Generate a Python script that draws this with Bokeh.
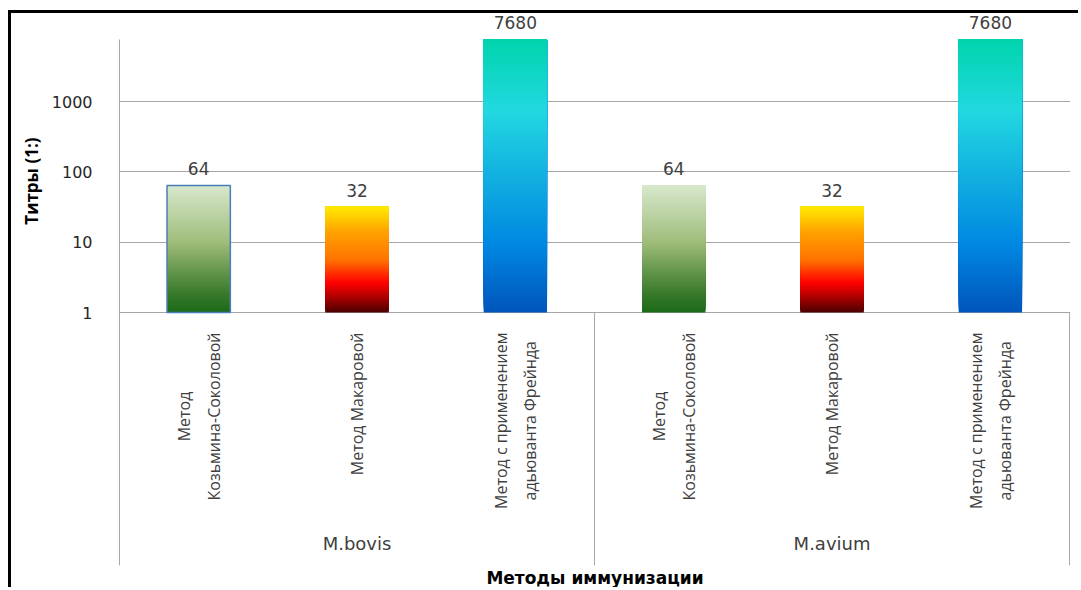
import numpy as np
from bokeh.plotting import figure
from bokeh.models import FixedTicker, Range1d, ColumnDataSource, Title
from bokeh.core.properties import value
from bokeh.embed import file_html
from bokeh.resources import INLINE

# ---------------- data ----------------
groups = ["M.bovis", "M.avium"]
methods = ["Метод\nКозьмина-Соколовой", "Метод Макаровой", "Метод с применением\nадьюванта Фрейнда"]
bovis_titers = [64, 32, 7680]
avium_titers = [64, 32, 7680]
y_ticks = [1, 10, 100, 1000]
y_tick_labels = ["1", "10", "100", "1000"]
y_title = "Титры (1:)"
x_title = "Методы иммунизации"

# gradient stops per method: (fraction from bottom, colour)
gradients = [
    [(0.0, "#1a6a18"), (0.15, "#3a7a2c"), (0.35, "#6a9a50"), (0.55, "#9fbc7a"), (0.75, "#b8d0a0"), (1.0, "#d8e8cc")],
    [(0.0, "#4a0000"), (0.15, "#b00000"), (0.28, "#ff0000"), (0.5, "#ff7400"), (0.75, "#ffa000"), (1.0, "#ffea00")],
    [(0.0, "#0055bb"), (0.25, "#0088e2"), (0.5, "#12b0e0"), (0.74, "#22d8e0"), (1.0, "#00d4ac")],
]

# ---------------- layout constants (pixels) ----------------
PX_DECADE = 70.33
PX_ABOVE_ONE = 298
PX_BELOW_ONE = 253
y_start = 10 ** (-PX_BELOW_ONE / PX_DECADE)
y_end = 10 ** (PX_ABOVE_ONE / PX_DECADE)
GRID = "#a6a6a6"
TXT = "#404040"


def hex2rgb(h):
    h = h.lstrip("#")
    return np.array([int(h[i:i + 2], 16) for i in (0, 2, 4)], dtype=float)


def interp_color(stops, f):
    for (f0, c0), (f1, c1) in zip(stops[:-1], stops[1:]):
        if f0 <= f <= f1:
            t = 0 if f1 == f0 else (f - f0) / (f1 - f0)
            c = hex2rgb(c0) * (1 - t) + hex2rgb(c1) * t
            return "#%02x%02x%02x" % tuple(int(round(v)) for v in c)
    return stops[-1][1]


p = figure(width=1070, height=577,
           x_range=Range1d(0, 6.006), y_range=Range1d(y_start, y_end),
           y_axis_type="log", output_backend="svg", toolbar_location=None,
           min_border_left=108, min_border_right=11, min_border_top=1, min_border_bottom=25)
p.styles = {"margin-left": "8px", "margin-top": "10px",
            "border-top": "3px solid #000000", "border-left": "3px solid #000000"}
p.outline_line_color = None
p.background_fill_color = "white"
p.border_fill_color = "white"

# grid
p.xgrid.visible = False
p.ygrid.ticker = FixedTicker(ticks=y_ticks)
p.ygrid.grid_line_color = GRID
p.ygrid.grid_line_width = 1

# y axis
p.yaxis.ticker = FixedTicker(ticks=y_ticks)
p.yaxis.major_label_overrides = dict(zip(y_ticks, y_tick_labels))
p.yaxis.bounds = (y_start, max(bovis_titers + avium_titers))
p.yaxis.axis_line_color = GRID
p.yaxis.major_tick_line_color = None
p.yaxis.minor_tick_line_color = None
p.yaxis.major_label_standoff = 21
p.yaxis.major_label_text_font = "DejaVu Sans"
p.yaxis.major_label_text_font_size = "16px"
p.yaxis.major_label_text_color = "#262626"

# y title, placed over the upper (value) part of the plot
ytitle = Title(text=y_title, align="right", offset=123, standoff=12,
               text_font="Open Sans", text_font_style="bold",
               text_font_size="17px", text_color="#000000")
p.add_layout(ytitle, "left")

# x axis: only the title
p.xaxis.ticker = FixedTicker(ticks=[])
p.xaxis.axis_line_color = None
p.xaxis.major_tick_line_color = None
p.xaxis.minor_tick_line_color = None
p.xaxis.axis_label = x_title
p.xaxis.axis_label_text_font = "DejaVu Sans"
p.xaxis.axis_label_text_font_style = "bold"
p.xaxis.axis_label_text_font_size = "17px"
p.xaxis.axis_label_text_color = "#000000"
p.xaxis.axis_label_standoff = 2

# ---------------- bars (gradient built from stacked slices) ----------------
BAR_W = 0.4
N = 100
all_vals = [bovis_titers, avium_titers]
seg = dict(left=[], right=[], bottom=[], top=[], color=[])
centers, vals, cats = [], [], []
for gi, g in enumerate(groups):
    for mi, m in enumerate(methods):
        xc = gi * len(methods) + mi + 0.5
        v = all_vals[gi][mi]
        centers.append(xc)
        vals.append(v)
        cats.append(m)
        lt = np.log10(v)
        # each slice reaches to the bar's top; later (higher) slices cover the
        # upper part, so no seams appear between slices
        for k in range(N):
            seg["left"].append(xc - BAR_W / 2)
            seg["right"].append(xc + BAR_W / 2)
            seg["bottom"].append(10 ** (lt * k / N))
            seg["top"].append(v)
            seg["color"].append(interp_color(gradients[mi], (k + 0.5) / N))

p.quad(left="left", right="right", bottom="bottom", top="top",
       fill_color="color", line_color=None,
       source=ColumnDataSource(seg))

# selection outline on the first bar (as in the original)
p.quad(left=[centers[0] - BAR_W / 2], right=[centers[0] + BAR_W / 2],
       bottom=[1], top=[vals[0]], fill_color=None,
       line_color="#4a7ebb", line_width=1.5)

# value labels
p.text(x=centers, y=vals, text=[str(v) for v in vals],
       text_align="center", text_baseline="bottom", y_offset=-10,
       text_font=value("DejaVu Sans"), text_font_size="17px", text_color=TXT)

# category separators below the axis
n_m = len(methods)
sep_x = [n_m * (i + 1) for i in range(len(groups))]
p.segment(x0=sep_x, y0=[y_start] * len(sep_x), x1=sep_x, y1=[1] * len(sep_x),
          line_color=GRID, line_width=1)

# rotated category labels
p.text(x=centers, y=[1] * len(centers), text=cats, angle=np.pi / 2,
       anchor="center_right", text_align="center", y_offset=20,
       text_line_height=1.35,
       text_font=value("Open Sans"), text_font_size="16px", text_color=TXT)

# group labels
p.text(x=[n_m * (i + 0.5) for i in range(len(groups))], y=[1] * len(groups),
       text=groups, text_align="center", text_baseline="middle", y_offset=231,
       text_font=value("DejaVu Sans"), text_font_size="18px", text_color=TXT)

open("out.html", "w").write(file_html(p, INLINE))
